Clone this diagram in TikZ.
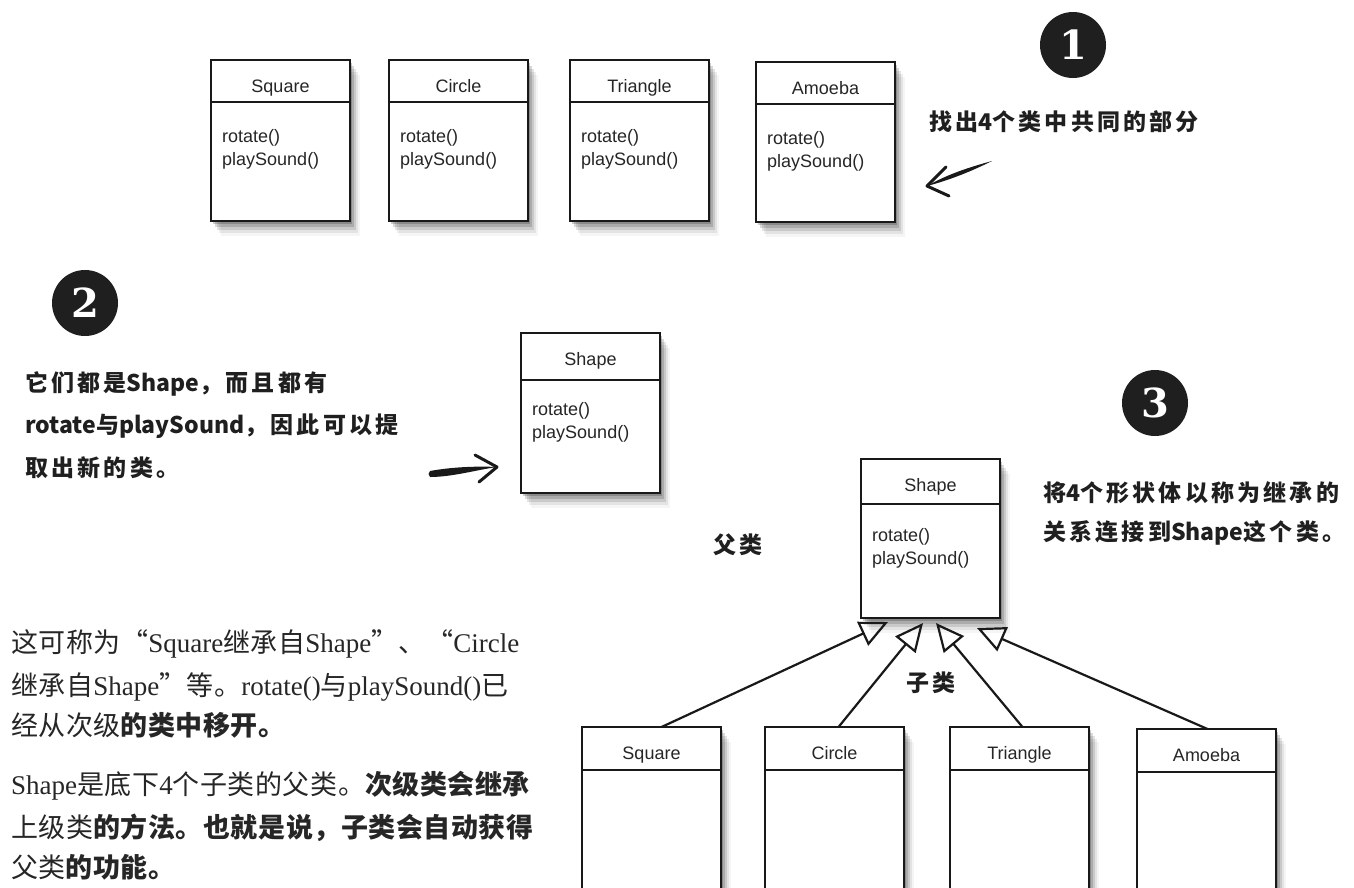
\documentclass[tikz,border=0pt]{standalone}
\usepackage{fontspec}
\setmainfont{Liberation Serif}
\newfontfamily\arialf{Liberation Sans}
\newfontfamily\cjk{Noto Sans CJK SC}
\newfontfamily\cjkp{Noto Sans CJK SC}[LetterSpace=2]
\newfontfamily\handf{Noto Sans CJK SC}[LetterSpace=14]
\newfontfamily\handL{Noto Sans CJK SC}
\newfontfamily\numf{DejaVu Serif}
\usetikzlibrary{shadows,arrows.meta,calc}
\newcommand{\zh}[1]{{\cjkp #1}}
\newcommand{\zhb}[1]{{\cjkp\bfseries #1}}
\newcommand{\hl}[1]{{\handL\bfseries #1}}
\newcommand{\UMLbox}[7]{%
  \node[umlbox, minimum height={#4-#3}, anchor=north west] (#1) at (#2,#3) {};
  \draw[divline] (#1.west |- 0,#5) -- (#1.east |- 0,#5);
  \node[umltitle] (#1-t) at ({#2+69.5},{#3+32}) {#6};
  \ifnum#7=1
    \node[umlmeth] (#1-r) at ({#2+11},{#3+82}) {rotate()};
    \node[umlmeth] (#1-p) at ({#2+11},{#3+105}) {playSound()};
  \fi
}
\tikzset{
  umlbox/.style={draw=black!90, line width=2.8pt, fill=white, inner sep=0pt, outer sep=0pt,
    minimum width=139pt,
    drop shadow={shadow xshift=2pt, shadow yshift=-3pt, opacity=.20, fill=black},
    drop shadow={shadow xshift=4pt, shadow yshift=-6pt, opacity=.15, fill=black},
    drop shadow={shadow xshift=6pt, shadow yshift=-9pt, opacity=.11, fill=black},
    drop shadow={shadow xshift=8pt, shadow yshift=-12pt, opacity=.07, fill=black},
    drop shadow={shadow xshift=10pt, shadow yshift=-15pt, opacity=.04, fill=black}},
  divline/.style={draw=black!90, line width=2.2pt},
  umltitle/.style={anchor=base, inner sep=0pt, font=\arialf\fontsize{18}{22}\selectfont, text=black!85},
  umlmeth/.style={anchor=base west, inner sep=0pt, font=\arialf\fontsize{18}{22}\selectfont, text=black!85},
  numcirc/.style={circle, fill=black!88, minimum size=66pt, inner sep=0pt, text=white,
    font=\numf\bfseries\fontsize{40}{40}\selectfont},
  hand/.style={inner sep=0pt, text=black!88, font=\handf\bfseries\fontsize{23}{28}\selectfont},
  para/.style={anchor=base west, inner sep=0pt, text=black!85, font=\fontsize{27}{30}\selectfont},
  inh/.style={draw=black!90, line width=2.2pt, -{Triangle[open, length=28pt, width=26pt, line width=2.2pt]}},
  handstroke/.style={draw=black!90, line width=3pt, line cap=round, line join=round},
}
\begin{document}
\begin{tikzpicture}[x=1pt, y=-1pt]
\useasboundingbox (0,0) rectangle (1354,887);
\clip (0,0) rectangle (1354,887);
\fill[white] (0,0) rectangle (1354,887);

% step 1: four classes
\UMLbox{sqA}{211}{60}{221}{102}{Square}{1}
\UMLbox{ciA}{389}{60}{221}{102}{Circle}{1}
\UMLbox{trA}{570}{60}{221}{102}{Triangle}{1}
\UMLbox{amA}{756}{62}{222}{104}{Amoeba}{1}

\node[numcirc] (n1) at (1073,45) {1};
\node[hand, anchor=west] (t1) at (929,122) {找出\hl{4}个类中共同的部分};
\coordinate (a1tip) at (927,186);
\fill[black!90] (992,161) .. controls (970,167) and (948,174) .. (a1tip)
  .. controls (950,180) and (972,171) .. (992,161) -- cycle;
\draw[handstroke] (946,167) -- (a1tip) -- (949,196);

% step 2
\node[numcirc] (n2) at (85,303) {2};
\node[hand, anchor=west] (t2a) at (25,384) {它们都是\hl{Shape}，而且都有};
\node[hand, anchor=west] (t2b) at (25,426) {\hl{rotate}与\hl{playSound}，因此可以提};
\node[hand, anchor=west] (t2c) at (25,468) {取出新的类。};
\UMLbox{shM}{521}{333}{493}{380}{Shape}{1}
\coordinate (a2tip) at (497,467);
\fill[black!90] (430,471) .. controls (452,467) and (476,466) .. (a2tip)
  .. controls (476,470) and (452,477) .. (430,477)
  .. controls (428,475) and (428,473) .. (430,471) -- cycle;
\draw[handstroke] (475,455) -- (a2tip) -- (479,482);

% step 3
\node[numcirc] (n3) at (1155,403) {3};
\node[hand, anchor=west] (t3a) at (1043,493) {将\hl{4}个形状体以称为继承的};
\node[hand, anchor=west] (t3b) at (1043,533) {关系连接到\hl{Shape}这个类。};
\UMLbox{shB}{861}{459}{618}{504}{Shape}{1}
\node[hand] (fu) at (738,545) {父类};
\node[hand] (zi) at (931,683) {子类};

\UMLbox{sqB}{582}{727}{905}{770}{Square}{0}
\UMLbox{ciB}{765}{727}{905}{770}{Circle}{0}
\UMLbox{trB}{950}{727}{905}{770}{Triangle}{0}
\UMLbox{amB}{1137}{729}{905}{772}{Amoeba}{0}

\draw[inh] ($(sqB.north)+(10,0)$) -- ($(shB.south west)+(27,4)$);
\draw[inh] ($(ciB.north)+(4,0)$) -- ($(shB.south west)+(62,5)$);
\draw[inh] ($(trB.north)+(3,0)$) -- ($(shB.south west)+(75,5)$);
\draw[inh] ($(amB.north)+(1,0)$) -- ($(shB.south west)+(116,10)$);

% explanatory text
\node[para] (p1) at (11,652) {\zh{这可称为“}Square\zh{继承自}Shape\zh{”、“}Circle};
\node[para] (p2) at (11,695) {\zh{继承自}Shape\zh{”等。}rotate()\zh{与}playSound()\zh{已}};
\node[para] (p3) at (11,735) {\zh{经从次级}\zhb{的类中移开。}};
\node[para] (p4) at (11,794) {Shape\zh{是底下}4\zh{个子类的父类。}\zhb{次级类会继承}};
\node[para] (p5) at (11,837) {\zh{上级类}\zhb{的方法。也就是说，子类会自动获得}};
\node[para] (p6) at (11,877) {\zh{父类}\zhb{的功能。}};
\end{tikzpicture}
\end{document}
